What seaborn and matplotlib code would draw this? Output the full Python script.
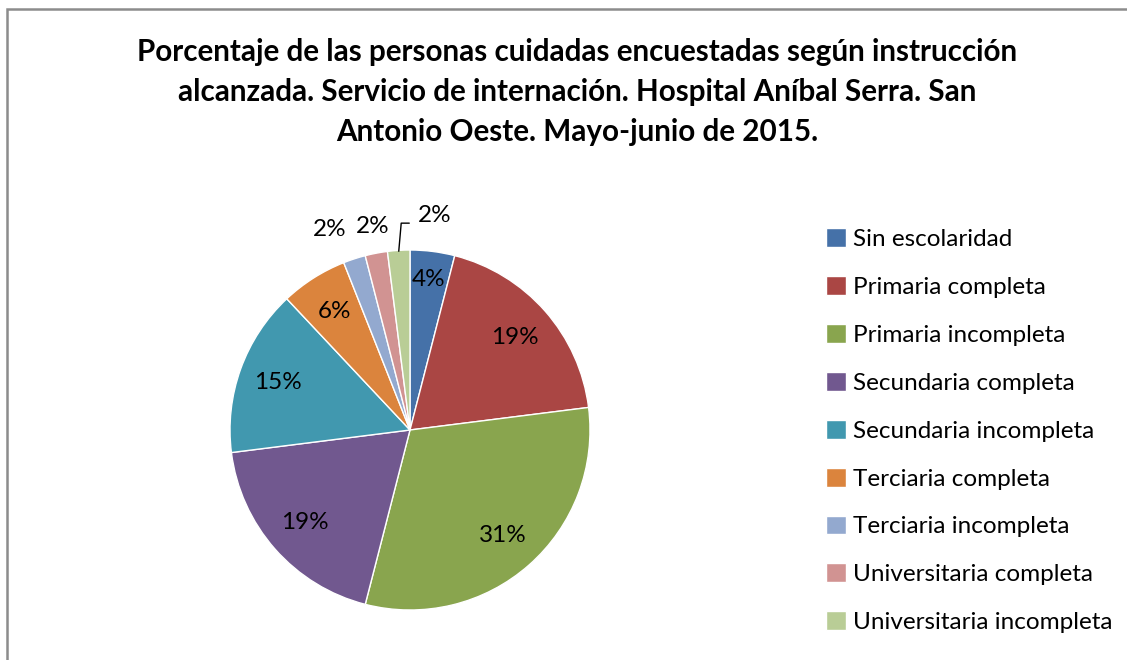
import numpy as np
import matplotlib
matplotlib.use("Agg")
import matplotlib.pyplot as plt
import seaborn as sns
from matplotlib.patches import Rectangle

categories = ["Sin escolaridad", "Primaria completa", "Primaria incompleta",
              "Secundaria completa", "Secundaria incompleta", "Terciaria completa",
              "Terciaria incompleta", "Universitaria completa", "Universitaria incompleta"]
percent = [4, 19, 31, 19, 15, 6, 2, 2, 2]
colors = ["#4571A8", "#AA4644", "#89A54E", "#71588F", "#4198AF",
          "#DB843D", "#93A9CF", "#D19392", "#B9CD96"]
title = ("Porcentaje de las personas cuidadas encuestadas según instrucción\n"
         "alcanzada. Servicio de internación. Hospital Aníbal Serra. San\n"
         "Antonio Oeste. Mayo-junio de 2015.")

sns.set_style("white")
plt.rcParams['font.family'] = ['Lato', 'DejaVu Sans']
FS = 17.5

fig = plt.figure(figsize=(11.27, 6.6), dpi=100)
# frame of the chart area
fig.patches.append(Rectangle((7 / 1127, -0.05), 1.1, (660 - 9) / 660 + 0.05,
                             transform=fig.transFigure, fill=False,
                             edgecolor="#8c8c8c", linewidth=1.8))

fig.text(0.512, 1 - 92 / 660, title, ha="center", va="center", fontsize=21.3,
         fontweight="bold", linespacing=1.5, color="black")

ax = fig.add_axes([230 / 1127, 50 / 660, 360 / 1127, 360 / 660])
wedges, texts = ax.pie(percent, colors=colors, startangle=90, counterclock=False,
                       radius=1, wedgeprops=dict(edgecolor="white", linewidth=1))
ax.set_xlim(-1, 1)
ax.set_ylim(-1, 1)
ax.set_aspect("equal")

# distance / angle shift (deg) for the labels of the small outer slices
outer = {6: (1.2, 3.8), 7: (1.15, -0.5)}
for i, w in enumerate(wedges):
    mid = np.deg2rad((w.theta1 + w.theta2) / 2)
    lab = f"{percent[i]}%"
    if percent[i] >= 4:
        d = 0.84 if percent[i] == 4 else 0.78
        ax.text(d * np.cos(mid), d * np.sin(mid), lab, ha="center", va="center",
                fontsize=FS, color="black")
    elif i in outer:
        d, shift = outer[i]
        ang = mid + np.deg2rad(shift)
        ax.text(d * np.cos(ang), d * np.sin(ang), lab, ha="center", va="center",
                fontsize=FS, color="black")
    else:
        ax.annotate(lab, xy=(0.995 * np.cos(mid), 0.995 * np.sin(mid)),
                    xytext=(0.045, 1.19), ha="left", va="center",
                    fontsize=FS, color="black",
                    arrowprops=dict(arrowstyle="-", color="black", lw=1,
                                    relpos=(0, 0.15), shrinkA=4, shrinkB=0,
                                    connectionstyle="angle,angleA=0,angleB=85,rad=0"))

leg = fig.legend(wedges, categories, loc="upper left",
                 bbox_to_anchor=(814 / 1127, 1 - 216 / 660), frameon=False,
                 fontsize=FS, handlelength=0.82, handleheight=0.82,
                 handletextpad=0.3, labelspacing=1.07, borderpad=0)
for t in leg.get_texts():
    t.set_color("black")

fig.savefig("out.png", dpi=100)
